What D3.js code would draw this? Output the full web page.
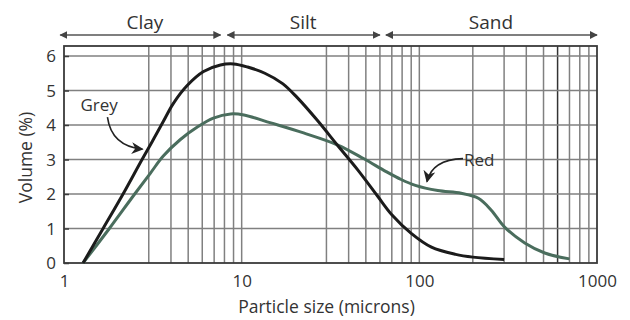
<!DOCTYPE html>
<html>
<head>
<meta charset="utf-8">
<script src="https://cdn.jsdelivr.net/npm/d3@7"></script>
<style>
  body { margin: 0; background: #fff; }
  text { font-family: "Open Sans", "Noto Sans", sans-serif; fill: #333; }
</style>
</head>
<body>
<script>
// particle size (microns) and volume (%)
var greySize = [1.28, 1.66, 2.15, 2.75, 3.2, 3.62, 4.12, 4.95, 6.1, 7.6, 9.0, 10.8, 13.5, 17, 20.5, 26.5, 34.8, 45, 58, 70, 90, 117, 160, 200, 300];
var greyVol  = [0, 1.0, 2.0, 3.0, 3.6, 4.1, 4.62, 5.15, 5.55, 5.74, 5.77, 5.68, 5.5, 5.2, 4.8, 4.15, 3.4, 2.7, 1.95, 1.4, 0.86, 0.46, 0.25, 0.17, 0.1];

var redSize = [1.28, 1.8, 2.5, 3.06, 3.62, 4.52, 5.63, 6.93, 8.67, 10.3, 14.6, 22.3, 34.8, 48.8, 65, 79, 95, 127, 172, 216, 254, 302, 392, 508, 700];
var redVol  = [0, 1.0, 2.0, 2.6, 3.1, 3.58, 3.94, 4.2, 4.32, 4.29, 4.06, 3.77, 3.42, 3.02, 2.65, 2.42, 2.25, 2.1, 2.02, 1.87, 1.53, 1.04, 0.58, 0.29, 0.12];

// grid and ticks
var gridX = [3, 4, 5, 6, 7, 8, 9, 10, 30, 40, 50, 60, 70, 80, 90, 100, 200, 300, 400, 500, 600, 700, 800, 900];
var gridY = [1, 2, 3, 4, 5, 6];
var xTicks = [1, 10, 100, 1000];
var yTicks = [0, 1, 2, 3, 4, 5, 6];

// size classes along the top
var classNames = ["Clay", "Silt", "Sand"];
var classFrom  = [0.94, 8.2, 64];
var classTo    = [7.6, 60, 1000];

window.onload = function(){

    var margin = {top: 46, right: 33, bottom: 57, left: 64},
        width = 630 - margin.left - margin.right,
        height = 320 - margin.top - margin.bottom;

    var svg = d3.select("body")
        .append("svg")
        .attr("width", 630)
        .attr("height", 320);

    var g = svg.append("g")
        .attr("transform", "translate(" + margin.left + "," + margin.top + ")");

    var x = d3.scaleLog().domain([1, 1000]).range([0, width]),
        y = d3.scaleLinear().domain([0, 6.29]).range([height, 0]);

    // arrowheads
    var defs = svg.append("defs");
    defs.append("marker")
        .attr("id", "head")
        .attr("viewBox", "0 0 10 10")
        .attr("refX", 9).attr("refY", 5)
        .attr("markerWidth", 8).attr("markerHeight", 8)
        .attr("markerUnits", "userSpaceOnUse")
        .attr("orient", "auto-start-reverse")
        .append("path")
        .attr("d", "M0,0 L10,5 L0,10 z")
        .attr("fill", "#444");
    defs.append("marker")
        .attr("id", "bigHead")
        .attr("viewBox", "0 0 10 10")
        .attr("refX", 9).attr("refY", 5)
        .attr("markerWidth", 12).attr("markerHeight", 12)
        .attr("markerUnits", "userSpaceOnUse")
        .attr("orient", "auto")
        .append("path")
        .attr("d", "M0,0 L10,5 L0,10 L3,5 z")
        .attr("fill", "#222");

    // gridlines
    g.selectAll(".vgrid")
        .data(gridX)
        .enter().append("line")
        .attr("x1", function(d) { return x(d); })
        .attr("x2", function(d) { return x(d); })
        .attr("y1", 0)
        .attr("y2", height)
        .attr("stroke", function(d) { return d == 600 ? "#333" : "#808080"; })
        .attr("stroke-width", 1.5);

    g.selectAll(".hgrid")
        .data(gridY)
        .enter().append("line")
        .attr("x1", 0)
        .attr("x2", width)
        .attr("y1", function(d) { return y(d); })
        .attr("y2", function(d) { return y(d); })
        .attr("stroke", "#808080")
        .attr("stroke-width", 1.5);

    // frame
    g.append("rect")
        .attr("width", width)
        .attr("height", height)
        .attr("fill", "none")
        .attr("stroke", "#3a3a3a")
        .attr("stroke-width", 1.8);

    // y axis, ticks pointing inward
    var yAxis = g.append("g")
        .call(d3.axisRight(y).tickValues(yTicks).tickSize(5).tickFormat(d3.format("d")));
    yAxis.select(".domain").remove();
    yAxis.selectAll("line").attr("stroke", "#3a3a3a").attr("stroke-width", 1.5);
    yAxis.selectAll("text")
        .attr("x", -8)
        .attr("dy", "0.35em")
        .style("text-anchor", "end")
        .style("font-size", "17px")
        .style("fill", "#333");

    // x axis labels
    var xAxis = g.append("g")
        .attr("transform", "translate(0," + height + ")")
        .call(d3.axisBottom(x).tickValues(xTicks).tickSize(0).tickFormat(d3.format("d")));
    xAxis.select(".domain").remove();
    xAxis.selectAll("text")
        .attr("y", 12)
        .attr("dy", "0.71em")
        .style("font-size", "17px")
        .style("fill", "#333");

    // axis titles
    g.append("text")
        .attr("x", width / 2 - 4)
        .attr("y", height + 50)
        .style("text-anchor", "middle")
        .style("font-size", "17.5px")
        .text("Particle size (microns)");

    g.append("text")
        .attr("transform", "rotate(-90)")
        .attr("x", -(height / 2) - 3)
        .attr("y", -32)
        .style("text-anchor", "middle")
        .style("font-size", "17.5px")
        .text("Volume (%)");

    // the two curves
    var line = d3.line()
        .curve(d3.curveCatmullRom.alpha(0.5))
        .x(function(d) { return x(d[0]); })
        .y(function(d) { return y(d[1]); });

    var red = d3.zip(redSize, redVol),
        grey = d3.zip(greySize, greyVol);

    g.append("path")
        .datum(red)
        .attr("d", line)
        .attr("fill", "none")
        .attr("stroke", "#4a6d5d")
        .attr("stroke-width", 3);

    g.append("path")
        .datum(grey)
        .attr("d", line)
        .attr("fill", "none")
        .attr("stroke", "#1b1b1b")
        .attr("stroke-width", 3);

    // size class arrows along the top
    var bandY = -11;
    classNames.forEach(function(name, i) {
        g.append("line")
            .attr("x1", x(classFrom[i]) + 1)
            .attr("x2", x(classTo[i]))
            .attr("y1", bandY)
            .attr("y2", bandY)
            .attr("stroke", "#555")
            .attr("stroke-width", 1.3)
            .attr("marker-start", "url(#head)")
            .attr("marker-end", "url(#head)");
        g.append("text")
            .attr("x", (x(classFrom[i]) + x(classTo[i])) / 2 + (i == 0 ? 5 : 0))
            .attr("y", bandY - 6)
            .style("text-anchor", "middle")
            .style("font-size", "19px")
            .text(name);
    });

    // curve labels with curved arrows
    var gx = x(2.8), gy = y(3.27);
    g.append("text")
        .attr("x", gx - 63)
        .attr("y", gy - 39)
        .style("font-size", "17px")
        .text("Grey");
    g.append("path")
        .attr("d", "M" + (gx - 36) + "," + (gy - 33) + " Q" + (gx - 32) + "," + (gy - 4) + " " + (gx - 1) + "," + (gy - 1))
        .attr("fill", "none")
        .attr("stroke", "#222")
        .attr("stroke-width", 1.6)
        .attr("marker-end", "url(#bigHead)");

    var rx = x(109), ry = y(2.33);
    g.append("text")
        .attr("x", rx + 38)
        .attr("y", ry - 17)
        .style("font-size", "17px")
        .text("Red");
    g.append("path")
        .attr("d", "M" + (rx + 37) + "," + (ry - 24) + " Q" + (rx + 6) + "," + (ry - 23) + " " + (rx + 1) + "," + (ry - 1))
        .attr("fill", "none")
        .attr("stroke", "#222")
        .attr("stroke-width", 1.6)
        .attr("marker-end", "url(#bigHead)");
};
</script>
</body>
</html>
